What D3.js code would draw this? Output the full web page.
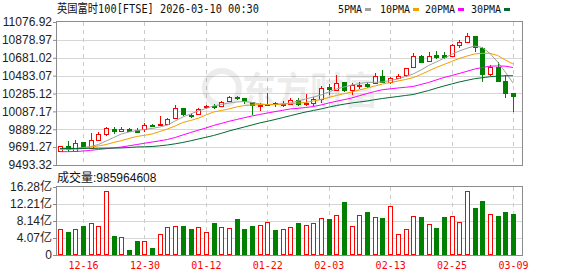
<!DOCTYPE html>
<html>
<head>
<meta charset="utf-8">
<script src="https://cdn.jsdelivr.net/npm/d3@7"></script>
<style>
body{margin:0;background:#fff;}
svg{display:block;}
.axis text{font-family:"Liberation Sans",Arial,"Noto Sans CJK SC",sans-serif;font-size:12px;fill:#222;}
.axis line{stroke:#8c8c8c;}
.axis path{display:none;}
.xaxis text{font-family:"DejaVu Sans Mono","Noto Sans CJK SC",monospace;font-size:10px;fill:#ff0000;}
.grid{stroke:#d6d6d6;shape-rendering:crispEdges;}
.vgrid{stroke:#cccccc;stroke-dasharray:4,4;shape-rendering:crispEdges;}
.frame{fill:none;stroke:#8c8c8c;shape-rendering:crispEdges;}
.legend{font-family:"DejaVu Sans Mono",monospace;font-size:10px;fill:#111;}
</style>
</head>
<body>
<script>
(function(){

//trading days shown in the window
var dates = ["12-11","12-12","12-15","12-16","12-17","12-18","12-19","12-22","12-23","12-24",
    "12-29","12-30","12-31","01-02","01-05","01-06","01-07","01-08","01-09","01-12",
    "01-13","01-14","01-15","01-16","01-19","01-20","01-21","01-22","01-23","01-26",
    "01-27","01-28","01-29","01-30","02-02","02-03","02-04","02-05","02-06","02-09",
    "02-10","02-11","02-12","02-13","02-16","02-17","02-18","02-19","02-20","02-23",
    "02-24","02-25","02-26","02-27","03-02","03-03","03-04","03-05","03-06","03-09"];

//daily candles
var opens = [9652,9704,9656,9745,9678,9770,9840,9895,9878,9895,
    9884,9889,9940,9940,9951,10008,10121,10050,10055,10132,
    10147,10143,10205,10243,10232,10188,10147,10166,10177,10161,
    10172,10210,10166,10177,10232,10361,10327,10409,10324,10365,
    10387,10401,10482,10416,10460,10482,10575,10700,10642,10715,
    10715,10700,10822,10859,10922,10786,10498,10582,10424,10287];
var highs = [9708,9759,9770,9752,9844,9862,9910,9911,9911,9900,
    9903,9962,9947,10036,10014,10158,10125,10066,10128,10158,
    10169,10205,10261,10261,10235,10191,10177,10291,10194,10199,
    10232,10232,10276,10246,10372,10387,10490,10413,10405,10409,
    10413,10509,10549,10465,10501,10571,10730,10706,10748,10756,
    10741,10828,10878,10952,10927,10800,10601,10637,10490,10291];
var lows = [9648,9641,9650,9672,9672,9759,9818,9837,9859,9868,
    9862,9862,9918,9938,9947,10003,10036,10011,10047,10110,
    10110,10139,10191,10213,10172,10047,10095,10158,10139,10132,
    10158,10143,10150,10150,10180,10268,10313,10298,10268,10338,
    10343,10394,10405,10387,10454,10471,10564,10620,10637,10664,
    10671,10686,10786,10855,10748,10416,10479,10416,10239,10084];
var closes = [9704,9667,9740,9678,9767,9833,9903,9878,9895,9873,
    9867,9933,9925,9945,10003,10121,10055,10036,10114,10143,
    10136,10188,10250,10232,10194,10150,10158,10172,10161,10172,
    10217,10166,10180,10224,10349,10343,10405,10324,10376,10376,
    10361,10482,10413,10457,10482,10564,10700,10637,10700,10693,
    10693,10822,10859,10922,10803,10498,10575,10424,10294,10258];

//volume in 亿 shares
var volumes = [6.15,5.5,6.15,6.94,7.59,6.87,15.25,4.55,4.23,1.2,
    3.35,3.35,1.68,4.95,6.63,6.87,6.94,6.22,6.63,5.5,
    7.66,6.63,6.39,8.62,6.22,6.94,7.1,7.9,5.99,6.15,
    6.63,7.66,7.1,7.59,8.78,8.62,9.5,12.69,6.87,9.5,
    10.29,9.02,8.86,11.65,4.95,6.15,9.26,9.1,7.35,6.46,
    9.1,9.26,7.9,15.25,11.25,12.93,9.74,9.34,10.29,9.86];

//moving averages as drawn
var ma5 = [9671,9673,9676,9687,9698,9720,9759,9798,9837,9859,
    9875,9887,9898,9914,9936,9981,10025,10058,10091,10119,
    10147,10163,10180,10191,10197,10186,10169,10163,10163,10169,
    10180,10202,10224,10246,10269,10302,10335,10357,10379,10396,
    10407,10409,10413,10429,10446,10473,10501,10545,10595,10634,
    10675,10717,10756,10786,10811,10795,10728,10634,10523,10401];
var ma10 = [9667,9667,9668,9676,9693,9704,9720,9743,9763,9787,
    9809,9822,9837,9864,9892,9925,9964,9986,10011,10047,
    10080,10097,10114,10136,10152,10158,10163,10163,10163,10169,
    10172,10180,10186,10202,10219,10241,10263,10283,10302,10324,
    10346,10368,10390,10407,10423,10440,10460,10496,10534,10573,
    10606,10640,10673,10700,10723,10730,10730,10706,10656,10612];
var ma20 = [9641,9641,9643,9648,9656,9665,9674,9682,9693,9706,
    9720,9734,9748,9761,9776,9798,9826,9853,9878,9903,
    9931,9953,9977,9997,10017,10036,10053,10069,10084,10099,
    10114,10121,10130,10141,10158,10180,10199,10217,10235,10261,
    10285,10307,10327,10337,10346,10354,10363,10385,10407,10435,
    10462,10484,10507,10531,10556,10573,10588,10590,10588,10573];
var ma30 = [9676,9676,9676,9677,9678,9678,9679,9681,9682,9687,
    9693,9695,9698,9706,9715,9728,9743,9761,9781,9800,
    9820,9844,9870,9892,9914,9936,9959,9977,9997,10018,
    10039,10060,10080,10097,10114,10134,10152,10167,10180,10191,
    10202,10217,10230,10241,10252,10263,10274,10296,10318,10344,
    10368,10390,10413,10431,10449,10460,10471,10477,10482,10482];

//axis ticks and labels
var priceTicks = [9493.32, 9691.27, 9889.22, 10087.17, 10285.12, 10483.07, 10681.02, 10878.97, 11076.92];
var volumeTicks = [0, 4.07, 8.14, 12.21, 16.28];
var dateTicks = ["12-16","12-30","01-12","01-22","02-03","02-13","02-25","03-09"];
var maNames = ["5PMA","10PMA","20PMA","30PMA"];
var maColors = ["#a0a0a0","#f0a000","#ff00ff","#006a33"];
var title = "英国富时100[FTSE] 2026-03-10 00:30";
var lastVolume = "985964608";

var upColor = "#ff0000",
    downColor = "#008000";

window.onload = drawChart();

function drawChart(){
    var width = 578,
        height = 276,
        left = 57,
        right = 522;

    var svg = d3.select("body")
        .append("svg")
        .attr("width", width)
        .attr("height", height);

    //scales
    var x = d3.scaleLinear()
        .domain([0, dates.length - 1])
        .range([60, 513]);
    var y = d3.scaleLinear()
        .domain([priceTicks[0], priceTicks[priceTicks.length - 1]])
        .range([165, 22]);
    var yVol = d3.scaleLinear()
        .domain([0, volumeTicks[volumeTicks.length - 1]])
        .range([255, 187]);

    var tickIdx = dateTicks.map(function(d){ return dates.indexOf(d); });

    //horizontal grid
    svg.selectAll(".pgrid")
        .data(priceTicks.slice(1, -1))
        .enter().append("line")
        .attr("class", "grid")
        .attr("x1", left).attr("x2", right)
        .attr("y1", function(d){ return Math.round(y(d)) + 0.5; })
        .attr("y2", function(d){ return Math.round(y(d)) + 0.5; });
    svg.selectAll(".vgridh")
        .data(volumeTicks.slice(1, -1))
        .enter().append("line")
        .attr("class", "grid")
        .attr("x1", left).attr("x2", right)
        .attr("y1", function(d){ return Math.round(yVol(d)) + 0.5; })
        .attr("y2", function(d){ return Math.round(yVol(d)) + 0.5; });

    //vertical dashed grid in both panels
    [[22, 165], [187, 255]].forEach(function(r){
        svg.selectAll(null)
            .data(tickIdx)
            .enter().append("line")
            .attr("class", "vgrid")
            .attr("x1", function(i){ return Math.round(x(i)) + 0.5; })
            .attr("x2", function(i){ return Math.round(x(i)) + 0.5; })
            .attr("y1", r[0]).attr("y2", r[1]);
    });

    //watermark
    var wm = svg.append("g").attr("opacity", 0.07);
    wm.append("circle")
        .attr("cx", 222).attr("cy", 88).attr("r", 17)
        .attr("fill", "none").attr("stroke", "#000").attr("stroke-width", 6);
    wm.append("text")
        .attr("x", 242).attr("y", 104)
        .attr("textLength", 136)
        .attr("lengthAdjust", "spacingAndGlyphs")
        .style("font-family", "Noto Sans CJK SC")
        .style("font-size", "38px")
        .style("font-weight", "bold")
        .text("东方财富");

    //candles
    var candles = svg.selectAll(".candle")
        .data(dates)
        .enter().append("g")
        .attr("class", "candle");

    candles.append("line")
        .attr("x1", function(d, i){ return Math.round(x(i)) + 0.5; })
        .attr("x2", function(d, i){ return Math.round(x(i)) + 0.5; })
        .attr("y1", function(d, i){ return y(highs[i]); })
        .attr("y2", function(d, i){ return y(lows[i]); })
        .attr("stroke", function(d, i){ return closes[i] >= opens[i] ? upColor : downColor; })
        .attr("shape-rendering", "crispEdges");

    candles.append("rect")
        .attr("x", function(d, i){ return Math.round(x(i)) - 2 + 0.5; })
        .attr("width", 4)
        .attr("y", function(d, i){ return Math.round(y(Math.max(opens[i], closes[i]))) + 0.5; })
        .attr("height", function(d, i){
            return Math.max(1, Math.round(Math.abs(y(opens[i]) - y(closes[i]))));
        })
        .attr("fill", function(d, i){ return closes[i] >= opens[i] ? "#fff" : downColor; })
        .attr("stroke", function(d, i){ return closes[i] >= opens[i] ? upColor : downColor; })
        .attr("shape-rendering", "crispEdges");

    //moving average lines
    [ma5, ma10, ma20, ma30].forEach(function(series, k){
        var line = d3.line()
            .x(function(d, i){ return x(i); })
            .y(function(d){ return y(d); });
        svg.append("path")
            .datum(series)
            .attr("d", line)
            .attr("fill", "none")
            .attr("stroke", maColors[k])
            .attr("stroke-width", 1);
    });

    //volume bars
    svg.selectAll(".vol")
        .data(volumes)
        .enter().append("rect")
        .attr("class", "vol")
        .attr("x", function(d, i){ return Math.round(x(i)) - 2 + 0.5; })
        .attr("width", 4)
        .attr("y", function(d){ return Math.round(yVol(d)) + 0.5; })
        .attr("height", function(d){ return Math.round(yVol(0) - yVol(d)) - 1; })
        .attr("fill", function(d, i){ return closes[i] >= opens[i] ? "#fff" : downColor; })
        .attr("stroke", function(d, i){ return closes[i] >= opens[i] ? upColor : downColor; })
        .attr("shape-rendering", "crispEdges");

    //frames
    svg.append("rect").attr("class", "frame")
        .attr("x", left - 0.5).attr("y", 21.5)
        .attr("width", right - left + 1).attr("height", 144);
    svg.append("rect").attr("class", "frame")
        .attr("x", left - 0.5).attr("y", 186.5)
        .attr("width", right - left + 1).attr("height", 69);

    //axes
    svg.append("g")
        .attr("class", "axis")
        .attr("transform", "translate(" + (left - 1) + ",0)")
        .call(d3.axisLeft(y).tickValues(priceTicks).tickSize(3).tickPadding(1)
            .tickFormat(d3.format(".2f")));
    svg.append("g")
        .attr("class", "axis")
        .attr("transform", "translate(" + (left - 1) + ",0)")
        .call(d3.axisLeft(yVol).tickValues(volumeTicks).tickSize(3).tickPadding(1)
            .tickFormat(function(d){ return d === 0 ? "0" : d3.format(".2f")(d) + "亿"; }));
    svg.append("g")
        .attr("class", "axis xaxis")
        .attr("transform", "translate(0,255)")
        .call(d3.axisBottom(x).tickValues(tickIdx).tickSize(0).tickPadding(7)
            .tickFormat(function(i){ return dates[i]; }));

    //title
    svg.append("text")
        .attr("x", left).attr("y", 13)
        .attr("textLength", 202)
        .attr("lengthAdjust", "spacingAndGlyphs")
        .style("font-family", "'DejaVu Sans Mono','Noto Sans CJK SC',monospace")
        .style("font-size", "12px")
        .style("fill", "#111")
        .text(title);

    //volume caption
    svg.append("text")
        .attr("x", left).attr("y", 182)
        .style("font-family", "'Liberation Sans','Noto Sans CJK SC',sans-serif")
        .style("font-size", "12px")
        .style("fill", "#111")
        .text("成交量:" + lastVolume);

    //legend
    var legendX = [338, 380, 425, 471];
    maNames.forEach(function(name, k){
        svg.append("text")
            .attr("class", "legend")
            .attr("x", legendX[k]).attr("y", 12.5)
            .text(name);
        svg.append("rect")
            .attr("x", legendX[k] + name.length * 6 + 3)
            .attr("y", 8)
            .attr("width", 6).attr("height", 3)
            .attr("fill", maColors[k]);
    });
};

})();
</script>
</body>
</html>
